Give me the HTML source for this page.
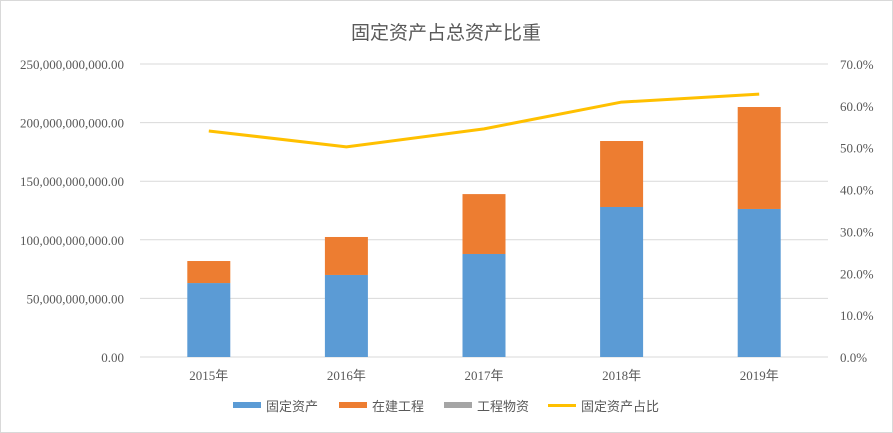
<!DOCTYPE html>
<html><head><meta charset="utf-8"><style>
body{margin:0;background:#fff;}
svg{display:block;font-family:"Liberation Serif","Noto Sans CJK SC",serif;}
</style></head><body>
<svg id="c" width="893" height="433">
<rect x="0.5" y="0.5" width="892" height="432" fill="#fff" stroke="#d9d9d9"/>
<text x="446" y="39" text-anchor="middle" font-size="19" fill="#595959" font-family="Liberation Sans,Noto Sans CJK SC,sans-serif">固定资产占总资产比重</text>
<g id="g"></g>
</svg>
<script>
const categories=["2015年","2016年","2017年","2018年","2019年"];
const fixedAssets=[63.1e9,70.0e9,87.9e9,128.0e9,126.3e9];
const construction=[18.8e9,32.4e9,51.1e9,56.3e9,87.0e9];
const materials=[0,0,0,0,0];
const ratio=[54.0,50.2,54.5,60.9,62.8];
const leftTicks=[0,50e9,100e9,150e9,200e9,250e9];
const rightTicks=[0,10,20,30,40,50,60,70];
const X0=140,X1=828,Y0=357,Y1=64;
const NS="http://www.w3.org/2000/svg",g=document.getElementById('g');
const yL=v=>Y0-(v/250e9)*(Y0-Y1);
const yR=v=>Y0-(v/70)*(Y0-Y1);
const cw=(X1-X0)/categories.length;
const xC=i=>X0+cw*(i+0.5);
function mk(t,a,p){const e=document.createElementNS(NS,t);for(const k in a)e.setAttribute(k,a[k]);(p||g).appendChild(e);return e;}
function fmt(v){return v.toLocaleString('en-US',{minimumFractionDigits:2,maximumFractionDigits:2});}
leftTicks.forEach(v=>{
 const l=mk('line',{x1:X0,x2:X1,y1:yL(v),y2:yL(v),stroke:'#d9d9d9'});
 
 
 const t=mk('text',{x:124,y:yL(v)+5,'text-anchor':'end','font-size':13,fill:'#595959'});
 t.textContent=fmt(v);
 
 
});
rightTicks.forEach(v=>{
 const t=mk('text',{x:840,y:yR(v)+5,'font-size':13,fill:'#595959'});
 t.textContent=v.toFixed(1)+'%';
 
 
});
const bw=43;
categories.forEach((c,i)=>{
 const b1=mk('rect',{x:xC(i)-bw/2,y:yL(fixedAssets[i]),width:bw,height:Y0-yL(fixedAssets[i]),fill:'#5b9bd5'});
 
 
 const top=fixedAssets[i]+construction[i];
 const b2=mk('rect',{x:xC(i)-bw/2,y:yL(top),width:bw,height:yL(fixedAssets[i])-yL(top),fill:'#ed7d31'});
 
 
 const top3=top+materials[i];
 const b3=mk('rect',{x:xC(i)-bw/2,y:yL(top3),width:bw,height:yL(top)-yL(top3),fill:'#a5a5a5'});
 
 
 const t=mk('text',{x:xC(i),y:380,'text-anchor':'middle','font-size':13,fill:'#595959'});
 t.textContent=c;
 
 
});
const pl=mk('polyline',{points:ratio.map((v,i)=>xC(i)+','+yR(v)).join(' '),fill:'none',stroke:'#ffc000','stroke-width':3,'stroke-linejoin':'round'});


const leg=[['固定资产','#5b9bd5',233,false],['在建工程','#ed7d31',339,false],['工程物资','#a5a5a5',444,false],['固定资产占比','#ffc000',548,true]];
leg.forEach(([n,c,x,ln])=>{
 const r=mk('rect',{x:x,y:ln?404:402,width:28,height:ln?3:6,fill:c});
 
 
 const t=mk('text',{x:x+33,y:411,'font-size':13,fill:'#595959','font-family':'Liberation Sans,Noto Sans CJK SC,sans-serif'});
 t.textContent=n;
 
 
});
</script>
</body></html>
